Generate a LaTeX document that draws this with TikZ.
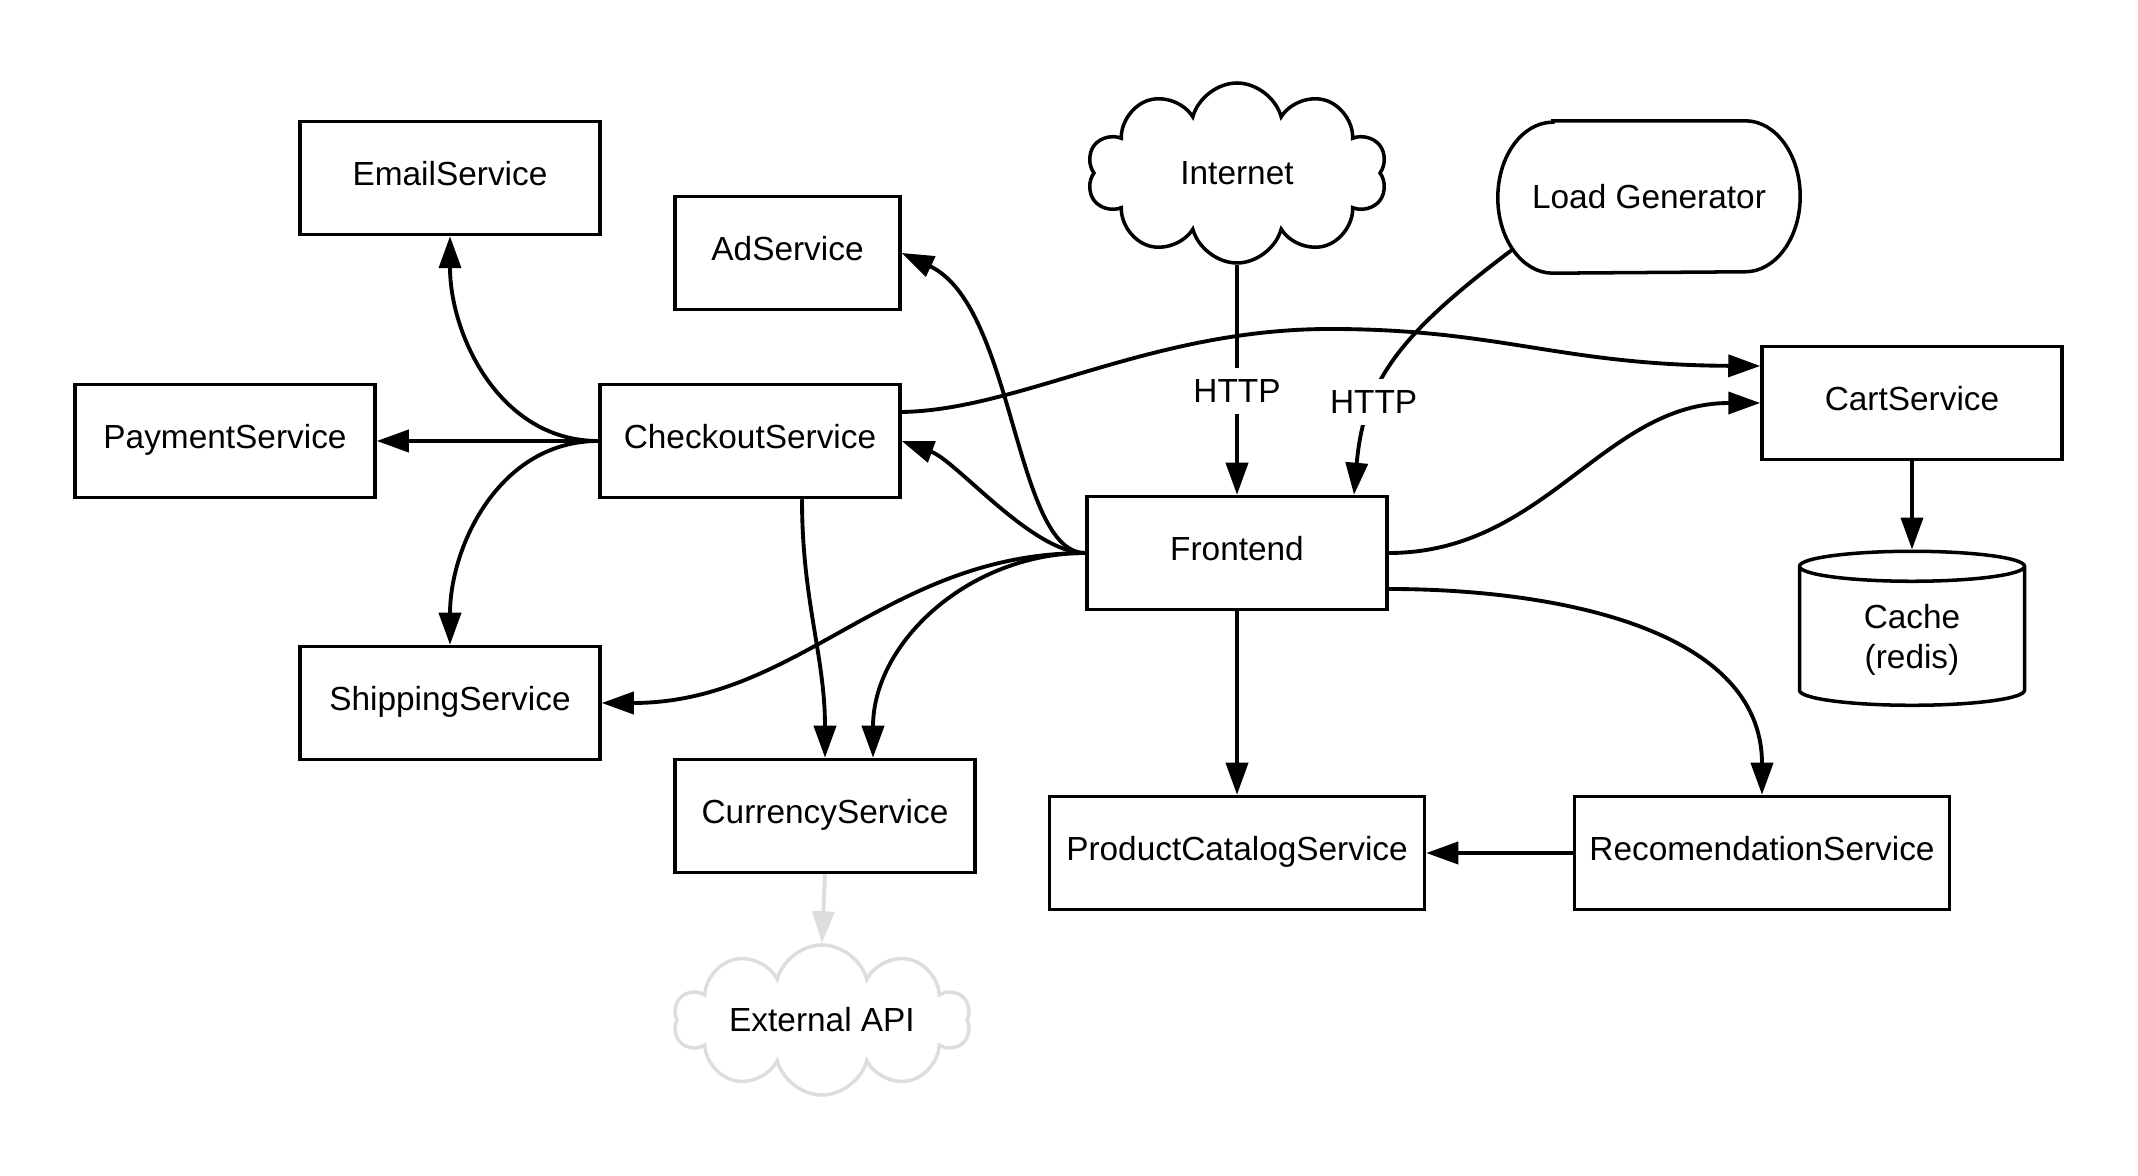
\documentclass[tikz,border=0pt]{standalone}
\usepackage{fontspec}
\setmainfont{Liberation Sans}
\usepackage{tikz}
\usetikzlibrary{arrows.meta}
\usetikzlibrary{shapes.geometric}
\usetikzlibrary{shapes.symbols}

\definecolor{faint}{RGB}{221,221,221}

\begin{document}
\begin{tikzpicture}[font=\fontsize{9.5}{11.5}\selectfont]

		\tikzset{
			box/.style={
				draw,
				line width=1pt,
				minimum width=3cm,
				minimum height=1.13cm,
				text height=7pt,
				text depth=2.5pt,
				align=center
			},
			arr/.style={
				line width=1.1pt,
				-{Triangle[length=0.32cm,width=0.22cm]}
			},
			puff/.style={
				cloud,
				cloud puffs=10,
				aspect=1.7,
				line width=1pt,
				minimum width=3cm,
				minimum height=1.8cm
			}
		}

		\useasboundingbox (0,0) rectangle (21.38,-11.76);

		\node[box] (Email) at (4.5,-1.78) {EmailService};
		\node[box,minimum width=2.25cm] (Ad) at (7.875,-2.53) {AdService};
		\node[box] (Pay) at (2.25,-4.41) {PaymentService};
		\node[box] (Chk) at (7.5,-4.41) {CheckoutService};
		\node[box] (Ship) at (4.5,-7.03) {ShippingService};
		\node[box] (Cur) at (8.25,-8.16) {CurrencyService};
		\node[box] (Front) at (12.37,-5.53) {Frontend};
		\node[box,minimum width=3.75cm] (Cat) at (12.37,-8.53) {ProductCatalogService};
		\node[box,minimum width=3.75cm] (Rec) at (17.62,-8.53) {RecomendationService};
		\node[box] (Cart) at (19.12,-4.03) {CartService};

		\node[draw,line width=1pt,cylinder,shape border rotate=90,aspect=0.25,
			minimum width=2.25cm,minimum height=1.54cm,align=center] (Cache) at (19.12,-6.4) {Cache\\(redis)};

		\node[puff,draw] (Net) at (12.37,-1.73) {Internet};
		\node[puff,draw=faint,aspect=2,minimum width=2.96cm,minimum height=1.5cm] (Ext) at (8.22,-10.2) {\makebox[0pt]{External API}};

		\node[minimum width=3.01cm,minimum height=1.51cm] (Load) at (16.49,-1.97) {Load Generator};
		\draw[line width=1pt] ([xshift=0.55cm]Load.north west) -- ([xshift=-0.55cm]Load.north east)
			arc[start angle=90,end angle=-90,x radius=0.55cm,y radius=0.755cm]
			-- ([xshift=0.55cm]Load.south west)
			arc[start angle=270,end angle=90,x radius=0.55cm,y radius=0.755cm] -- cycle;
		\coordinate (LoadOut) at ([xshift=-1.355cm,yshift=-0.518cm]Load.center);

		\draw[arr] (Net.south) -- node[fill=white,pos=0.55] {HTTP} (Front.north);
		\draw[arr] (LoadOut) .. controls +(-1.12,-0.84) and +(0.1,1.15) .. node[fill=white,pos=0.68] {HTTP} ([xshift=1.17cm]Front.north);

		\draw[arr] (Chk.west) to[out=180,in=-90] (Email.south);
		\draw[arr] (Chk.west) -- (Pay.east);
		\draw[arr] (Chk.west) to[out=180,in=90] (Ship.north);
		\draw[arr] ([xshift=0.52cm]Chk.south) to[out=-90,in=90] (Cur.north);
		\draw[arr] ([yshift=0.29cm]Chk.east) .. controls (10.2,-4.1) and (11.5,-3.29) .. (13.3,-3.29)
			.. controls (15.0,-3.29) and (15.6,-3.65) .. ([yshift=0.37cm]Cart.west);

		\draw[arr] (Front.west) .. controls +(-0.71,0) and +(1.13,-0.53) .. (Ad.east);
		\draw[arr] (Front.west) .. controls +(-0.53,0) and +(0.55,-0.2) .. (Chk.east);
		\draw[arr] (Front.west) to[out=180,in=0] (Ship.east);
		\draw[arr] (Front.west) to[out=180,in=90] ([xshift=0.48cm]Cur.north);
		\draw[arr] (Front.east) to[out=0,in=180] (Cart.west);
		\draw[arr] ([yshift=-0.36cm]Front.east) to[out=0,in=90] (Rec.north);
		\draw[arr] (Front.south) -- (Cat.north);
		\draw[arr] (Rec.west) -- (Cat.east);
		\draw[arr] (Cart.south) -- (Cache.north);
		\draw[arr,color=faint] (Cur.south) -- (Ext.north);

	\end{tikzpicture}
\end{document}
